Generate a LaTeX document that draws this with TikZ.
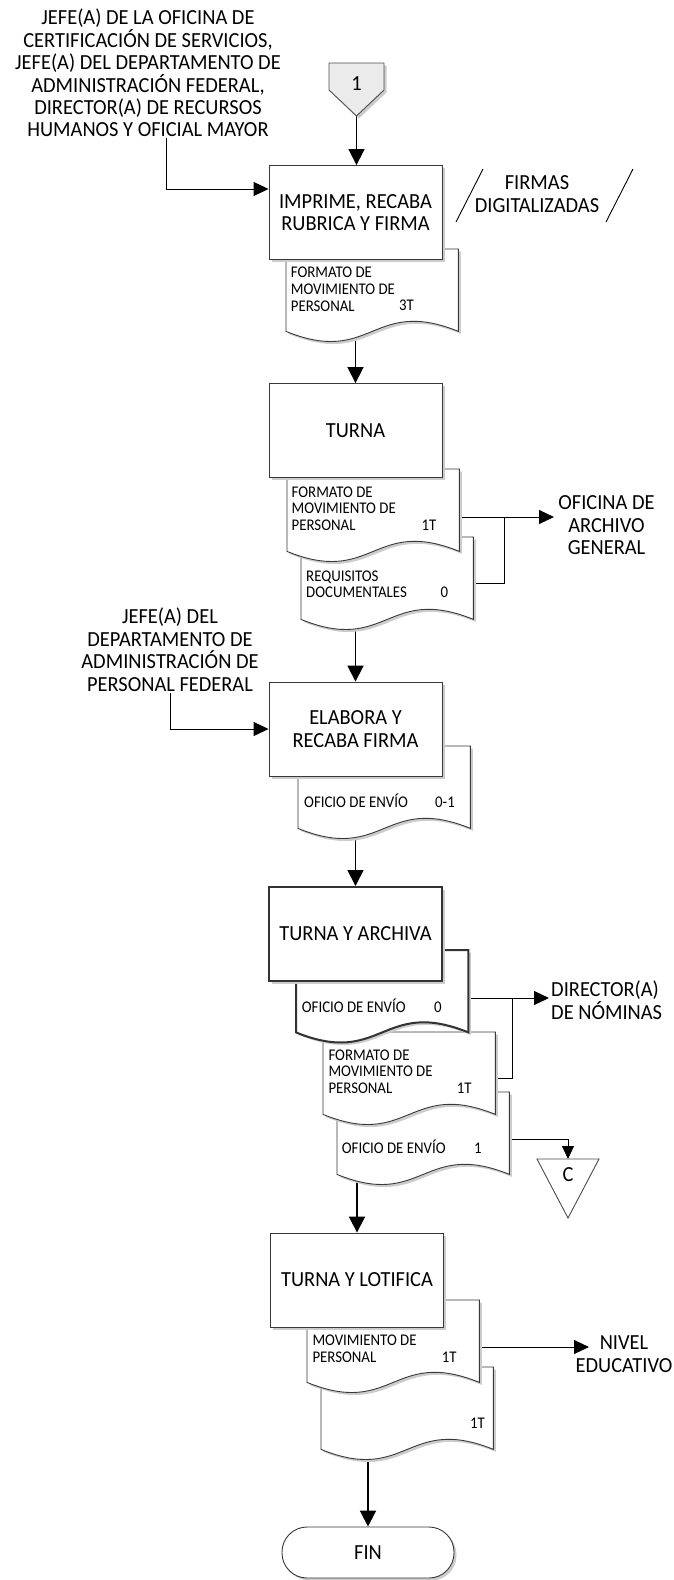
\documentclass[tikz,border=0pt]{standalone}
\usepackage{fontspec}
\setmainfont{Carlito}
\newfontfamily\bigfam[FakeStretch=0.95]{Carlito}
\newfontfamily\smallfam[FakeStretch=0.91]{Carlito}
\usetikzlibrary{arrows.meta,shadows,calc}
\pgfdeclarelayer{bg}
\pgfsetlayers{bg,main}
\newcommand\bigf{\bigfam\fontsize{21.5}{22.4}\selectfont}
\newcommand\smallf{\smallfam\fontsize{16.3}{16.6}\selectfont}
\newcommand\bigstrut{\rule{0pt}{20pt}}
\newcommand\smallstrut{\rule{0pt}{14pt}}
\tikzset{
  shad/.style={drop shadow={shadow xshift=2.5pt,shadow yshift=-2.5pt,fill=black!20,opacity=1}},
  proc/.style={draw=black!78, line width=0.9pt, fill=white, minimum width=173pt,
    minimum height=94pt, align=center, inner sep=2pt, font=\bigf, shad},
  docsh/.style={draw=black!78, line width=0.9pt, fill=white, shad},
  arr/.style={line width=1pt, -{Triangle[length=15pt,width=14pt]}},
  marr/.style={line width=1.8pt, -{Triangle[length=16pt,width=16pt]}},
  sarr/.style={line width=1pt, -{Triangle[length=13pt,width=12pt]}},
  ln/.style={line width=1pt},
  bigtxt/.style={font=\bigf, align=center, anchor=north, inner sep=0pt},
  smalltxt/.style={font=\smallf, align=left, anchor=north west, inner sep=0pt},
  cnt/.style={font=\smallf, anchor=base west, inner sep=0pt},
}
\newcommand\docbox[4]{%
  \node[minimum width=172pt, minimum height=82pt, inner sep=0pt, anchor=north west] (#1) at (#2,#3) {};
  \filldraw[docsh,#4] (#1.south west) -- (#1.north west) -- (#1.north east) -- (#1.south east)
    .. controls ($(#1.south)+(0,-35)$) and ($(#1.south)+(0,35)$) .. (#1.south west) -- cycle;}
\begin{document}
\begin{tikzpicture}[x=1pt,y=-1pt]
\useasboundingbox (0,0) rectangle (673,1580);

% top-left responsible
\node[bigtxt] (resp1) at (148,4.6) {\bigstrut JEFE(A) DE LA OFICINA DE\\CERTIFICACIÓN DE SERVICIOS,\\JEFE(A) DEL DEPARTAMENTO DE\\ADMINISTRACIÓN FEDERAL,\\DIRECTOR(A) DE RECURSOS\\HUMANOS Y OFICIAL MAYOR};
\coordinate (k1) at (166,138);
\coordinate (k1b) at (166,189);

% connector 1
\filldraw[fill=black!8, draw=black!70, line width=0.9pt, shad] (329,63) -- (384,63) -- (384,90) -- (356.5,116) -- (329,90) -- cycle;
\node[font=\bigf, anchor=base, inner sep=0pt] (n1) at (356.5,90.6) {1};
\coordinate (c1tip) at (356.5,116);

% firmas digitalizadas
\draw[line width=0.9pt] (456,222) -- (483,169);
\draw[line width=0.9pt] (606,222) -- (633,169);
\node[bigtxt] (firmas) at (537,169.6) {\bigstrut FIRMAS\\DIGITALIZADAS};

% group 1
\docbox{d1}{286}{249}{}
\node[smalltxt] (t1) at (290.7,263.7) {\smallstrut FORMATO DE\\MOVIMIENTO DE\\PERSONAL};
\node[cnt] (q1) at (399,310.9) {3T};
\node[proc] (b1) at (355.5,212.5) {IMPRIME, RECABA\\RUBRICA Y FIRMA};

% group 2
\docbox{dB}{301}{537}{}
\node[smalltxt] (tB) at (306,567) {\smallstrut REQUISITOS\\DOCUMENTALES};
\node[cnt] (qB) at (440.5,597.6) {0};
\docbox{dA}{287}{469}{}
\node[smalltxt] (tA) at (291.5,483) {\smallstrut FORMATO DE\\MOVIMIENTO DE\\PERSONAL};
\node[cnt] (qA) at (421.5,530.2) {1T};
\node[proc] (b2) at (355.5,430.5) {TURNA};
\node[bigtxt] (ofi) at (606.5,489.6) {\bigstrut OFICINA DE\\ARCHIVO\\GENERAL};
\coordinate (ofiA) at (554,517);

% group 3
\node[bigtxt] (resp2) at (170,603.6) {\bigstrut JEFE(A) DEL\\DEPARTAMENTO DE\\ADMINISTRACIÓN DE\\PERSONAL FEDERAL};
\coordinate (k2) at (170,693);
\coordinate (k2b) at (170,729);
\docbox{dC}{298}{746}{}
\node[cnt] (tC) at (304,807) {OFICIO DE ENVÍO};
\node[cnt] (qC) at (435,807) {0-1};
\node[proc] (b3) at (355.5,729) {ELABORA Y\\RECABA FIRMA};

% group 4
\docbox{dF}{337}{1092}{}
\node[cnt] (tF) at (341.7,1153.3) {OFICIO DE ENVÍO};
\node[cnt] (qF) at (474,1153.3) {1};
\docbox{dE}{323}{1032}{}
\node[smalltxt] (tE) at (328.3,1046) {\smallstrut FORMATO DE\\MOVIMIENTO DE\\PERSONAL};
\node[cnt] (qE) at (456.7,1093.2) {1T};
\docbox{dD}{296}{950}{line width=2pt, draw=black!80}
\node[cnt] (tD) at (301.7,1012.3) {OFICIO DE ENVÍO};
\node[cnt] (qD) at (434,1012.3) {0};
\node[proc, line width=2pt, draw=black!80] (b4) at (355.5,934) {TURNA Y ARCHIVA};
\node[font=\bigf, align=left, anchor=north west, inner sep=0pt] (dir) at (551,976.6) {\bigstrut DIRECTOR(A)\\DE NÓMINAS};
\coordinate (dirA) at (549,998);
\draw[draw=black!70, line width=0.9pt, fill=white] (537,1159) -- (599,1159) -- (568,1218) -- cycle;
\node[font=\bigf, anchor=base, inner sep=0pt] (cC) at (568,1181.6) {C};
\coordinate (ctop) at (568,1159);

% group 5
\docbox{dH}{321}{1367}{}
\node[cnt] (qH) at (470,1428.3) {1T};
\docbox{dG}{307}{1300}{}
\node[smalltxt] (tG) at (312.3,1331.7) {\smallstrut MOVIMIENTO DE\\PERSONAL};
\node[cnt] (qG) at (441.7,1362.3) {1T};
\node[proc] (b5) at (357,1280) {TURNA Y LOTIFICA};
\node[bigtxt] (niv) at (624,1329.6) {\bigstrut NIVEL\\EDUCATIVO};
\coordinate (nivA) at (589,1347);

\node[draw=black!78, line width=0.9pt, fill=white, rounded corners=25pt, minimum width=172pt,
  minimum height=51pt, font=\bigf, shad] (fin) at (368,1552.5) {FIN};

% connectors
\begin{pgfonlayer}{bg}
\draw[marr] (c1tip) -- (c1tip |- b1.north);
\draw[arr] (k1) -- (k1b) -- (k1b -| b1.west);
\draw[marr] (d1.south -| b2.north) -- (b2.north);
\coordinate (jA) at (504,517);
\coordinate (jB) at (504,583);
\draw[arr] (jA -| dA.east) -- (ofiA);
\draw[ln] (jB -| dB.east) -- (jB) -- (jA);
\draw[marr] (dB.south -| b3.north) -- (b3.north);
\draw[arr] (k2) -- (k2b) -- (b3.west);
\draw[marr] (dC.south -| b4.north) -- (b4.north);
\coordinate (jD) at (512,998);
\coordinate (jE) at (512,1078);
\draw[arr] (jD -| dD.east) -- (dirA);
\draw[ln] (jE -| dE.east) -- (jE) -- (jD);
\coordinate (jF) at (568,1139);
\draw[sarr] (jF -| dF.east) -- (jF) -- (ctop);
\draw[marr] (dF.south -| b5.north) -- (b5.north);
\draw[arr] (nivA -| dG.east) -- (nivA);
\draw[marr] (dH.south -| fin.north) -- (fin.north);
\end{pgfonlayer}
\end{tikzpicture}
\end{document}
